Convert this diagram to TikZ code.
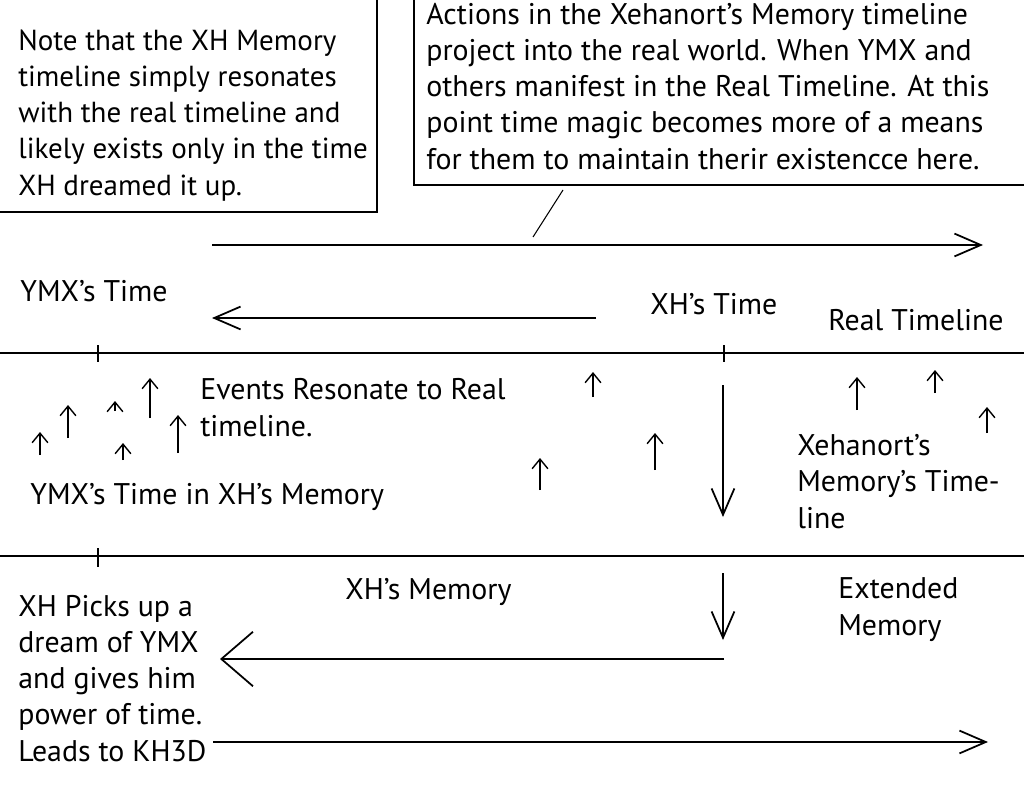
\documentclass[tikz,border=0pt]{standalone}
\usepackage{fontspec}
\setmainfont{PT Sans}
\usetikzlibrary{arrows.meta}
\tikzset{
  note/.style={font=\fontsize{17}{20.5}\selectfont, inner sep=0pt, align=left, anchor=base west},
  rule/.style={line width=1pt},
  bigarr/.style={line width=1pt, -{Straight Barb[length=15pt,width=13pt]}},
  widearr/.style={line width=1pt, -{Straight Barb[length=18pt,width=31pt]}},
  tinyarr/.style={line width=0.8pt, -{Straight Barb[length=5.5pt,width=9pt]}},
}
\begin{document}
\begin{tikzpicture}[x=0.02cm, y=-0.02cm]
  \useasboundingbox (0,0) rectangle (1024,791);
  % boxes at the top, cut by the page edge
  \draw[rule] (377,0) -- (377,212) -- (0,212);
  \draw[rule] (414,0) -- (414,185) -- (1024,185);
  \node[note, font=\fontsize{16.5}{20.5}\selectfont] (xhnote) at (18,195) {Note that the XH Memory\\timeline simply resonates\\with the real timeline and\\likely exists only in the time\\XH dreamed it up.};
  \node[note] (actnote) at (426,169) {Actions in the Xehanort's Memory timeline\\project into the real world. When YMX and\\others manifest in the Real Timeline. At this\\point time magic becomes more of a means\\for them to maintain therir existencce here.};
  % real timeline
  \coordinate (real-s) at (212,245);
  \coordinate (real-e) at (983,245);
  \draw[bigarr] (real-s) -- (real-e);
  \coordinate (call-a) at (563,190);
  \coordinate (call-b) at (533,237);
  \draw[line width=0.6pt] (call-a) -- (call-b);
  \node[note] (ymxtime) at (20,301) {YMX's Time};
  \node[note] (xhtime) at (650,314) {XH's Time};
  \node[note] (realtl) at (828,330) {Real Timeline};
  \coordinate (back-s) at (596,318);
  \coordinate (back-e) at (212,318);
  \draw[bigarr] (back-s) -- (back-e);
  % dividing lines with ticks
  \draw[rule] (0,353) -- (1024,353);
  \draw[rule] (0,556) -- (1024,556);
  \draw[rule] (98,345) -- (98,362);
  \draw[rule] (724,345) -- (724,362);
  \draw[rule] (98,548) -- (98,567);
  % events resonating upward
  \foreach \x/\ya/\yb in {40/455/432, 68/438/405, 115/411/401, 150/418/378,
      123/460/443, 178/453/415, 593/397/372, 540/490/458, 655/470/433,
      857/410/377, 935/393/370, 987/433/407}
    \draw[tinyarr] (\x,\ya) -- (\x,\yb);
  \node[note] (events) at (200,436) {Events Resonate to Real\\timeline.};
  \node[note] (ymxmem) at (30,504) {YMX's Time in XH's Memory};
  \coordinate (xhdown-s) at (723,385);
  \coordinate (xhdown-e) at (723,517);
  \draw[bigarr] (xhdown-s) -- (xhdown-e);
  \node[note] (xehtl) at (797,528) {Xehanort's\\Memory's Time-\\line};
  % memory band
  \node[note] (xhmem) at (345,599) {XH's Memory};
  \node[note] (extmem) at (838,635) {Extended\\Memory};
  \coordinate (memdown-s) at (723,573);
  \coordinate (memdown-e) at (723,640);
  \draw[bigarr] (memdown-s) -- (memdown-e);
  \coordinate (dream-s) at (724,659);
  \coordinate (dream-e) at (220,659);
  \draw[widearr] (dream-s) -- (dream-e);
  \node[note] (picks) at (18,761) {XH Picks up a\\dream of YMX\\and gives him\\power of time.\\Leads to KH3D};
  \coordinate (kh3d-s) at (213,742);
  \coordinate (kh3d-e) at (988,742);
  \draw[bigarr] (kh3d-s) -- (kh3d-e);
\end{tikzpicture}
\end{document}
